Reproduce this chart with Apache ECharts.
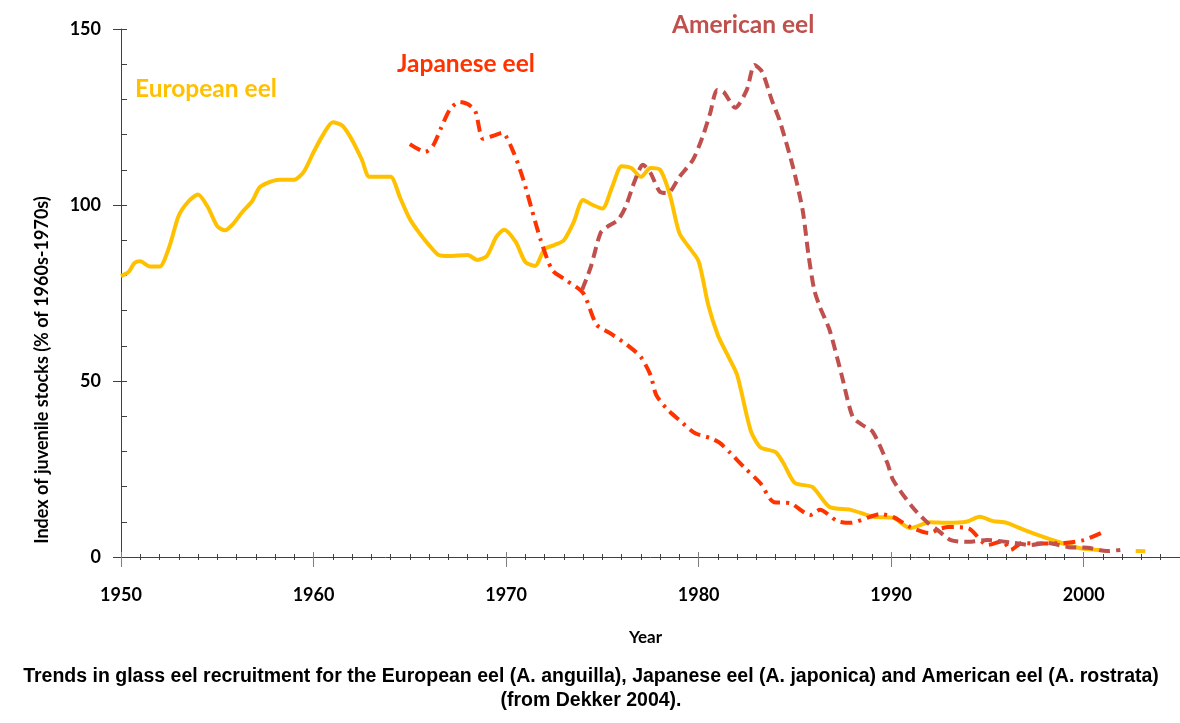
<!DOCTYPE html>
<html>
<head>
<meta charset="utf-8">
<script src="https://cdn.jsdelivr.net/npm/echarts@6/dist/echarts.min.js"></script>
<style>
html,body{margin:0;padding:0;background:#fff;}
#chart{width:1180px;height:723px;}
</style>
</head>
<body>
<div id="chart"></div>
<script>
// ---- Data ----
const xTickLabels = [1950, 1960, 1970, 1980, 1990, 2000];
const yTickLabels = [0, 50, 100, 150];

const euroYears = [1950.0,1950.4,1950.7,1951.0,1951.5,1952.0,1952.5,1953.0,1953.5,1954.0,1954.5,1955.0,1955.4,1955.8,1956.3,1956.8,1957.2,1957.7,1958.2,1959.0,1959.5,1960.0,1960.5,1961.0,1961.5,1962.0,1962.5,1962.9,1963.5,1964.0,1964.5,1965.0,1965.5,1966.0,1966.5,1967.0,1968.0,1968.5,1969.0,1969.5,1969.9,1970.5,1971.0,1971.5,1972.0,1972.5,1973.0,1973.5,1974.0,1974.5,1975.0,1975.5,1976.0,1976.5,1977.0,1977.5,1978.0,1978.5,1979.0,1979.5,1980.0,1980.5,1981.0,1981.5,1982.0,1982.7,1983.2,1984.0,1984.4,1985.0,1985.9,1986.8,1987.9,1989.1,1990.1,1991.0,1992.0,1992.9,1993.9,1994.6,1995.3,1996.0,1996.9,1997.9,1999.0,2000.0,2000.8,2001.8,2002.7,2003.2];
const euroValues = [79.8,81,83.5,84,82.5,82.5,88,97,101,103,99.5,94,92.8,94.5,98,101,105,106.5,107.2,107.2,109.5,115,120,123.5,122.5,118.5,113,108,108,108,102,96,92,88.6,85.8,85.5,85.8,84.4,85.5,91,93,89.5,83.8,82.7,87.5,88.6,90,95,101.4,100,99,105,111,110.5,108,110.5,110,103,92,88,84,71.6,63,57.4,51.7,36,31.2,29.8,26.7,21,19.9,14.2,13.4,11.4,11.1,8.2,9.9,9.7,10,11.4,10.2,9.7,7.7,5.7,3.7,2.3,2,null,1.7,1.6];

const japanYears = [1965.0,1965.8,1966.2,1966.6,1967.1,1967.6,1968.0,1968.4,1968.8,1969.3,1969.8,1970.4,1970.9,1971.3,1971.8,1972.4,1973.1,1974.0,1974.7,1975.4,1976.3,1977.0,1977.5,1977.8,1978.4,1979.0,1979.8,1980.6,1981.1,1981.6,1982.4,1983.2,1983.9,1984.75,1985.8,1986.3,1987.2,1987.9,1988.9,1989.4,1990.1,1991.0,1992.0,1992.5,1993.0,1994.0,1995.0,1995.8,1996.2,1996.8,1997.5,1999.0,2000.0,2000.9];
const japanValues = [117.3,115.1,116.8,121.6,127.3,129.3,128.7,126.7,118.8,119.6,120.5,114.8,107.1,99.4,90,81.5,78.7,75,66,63.6,60.2,56.8,51.7,46,41.8,38.9,35.2,33.8,32.4,29.8,25.3,21,15.6,15.3,11.9,13.4,10.2,9.7,11.4,12.2,11.4,8.5,6.8,8,8.5,8.2,3.4,4.5,2,4,3.8,4,4.8,6.8];

const amerYears = [1973.95,1974.4,1974.9,1975.25,1975.8,1976.2,1976.7,1977.1,1977.5,1978.0,1978.4,1979.0,1979.7,1980.2,1980.6,1980.96,1981.3,1981.9,1982.5,1982.9,1983.3,1983.8,1984.2,1984.9,1985.4,1985.7,1986.0,1986.3,1986.8,1987.4,1988.0,1988.5,1989.05,1989.8,1990.1,1991.1,1991.9,1992.4,1993.1,1994.0,1995.0,1996.4,1997.2,1998.1,1999.2,2000.2,2001.2,2001.9];
const amerValues = [75.9,82.4,92,93.8,95.7,99.4,107.1,111.4,109.1,103.7,103.4,108,112.8,119.3,126.1,132.7,132.1,127.6,132.7,139.8,137.8,129.8,124.1,110.8,98.6,86,76,71,64.5,52.3,39.8,37.5,35.5,26.7,21.9,14.2,9.7,7.7,4.8,4.3,4.8,4,3.4,4,2.8,2.6,1.7,2];

const seriesNames = ['European eel', 'Japanese eel', 'American eel'];
const yAxisTitle = 'Index of juvenile stocks (% of 1960s-1970s)';
const xAxisTitle = 'Year';
const captionLines = ['Trends in glass eel recruitment for the European eel (A. anguilla), Japanese eel (A. japonica) and American eel (A. rostrata)', '(from Dekker 2004).'];

// ---- Build ----
function pairs(xs, ys) { return xs.map((x, i) => [x, ys[i]]); }

const COL_EU = '#FFC000', COL_JP = '#FF3300', COL_AM = '#C0504D';
const tickFont = 'Lato';
const gridCfg = { left: 121, right: 0, top: 29, bottom: 166 };

const chart = echarts.init(document.getElementById('chart'), null, { renderer: 'canvas' });

const axisLineStyle = { color: '#404040', width: 1 };
const option = {
  backgroundColor: '#ffffff',
  animation: false,
  grid: gridCfg,
  xAxis: [
    {
      type: 'value', min: 1950, max: 2005, interval: 10,
      axisLine: { show: true, lineStyle: axisLineStyle },
      axisTick: { show: true, length: 10, lineStyle: { color: '#808080' }, customValues: xTickLabels },
      minorTick: { show: true, splitNumber: 10, length: 3, lineStyle: { color: '#404040' } },
      splitLine: { show: false }, minorSplitLine: { show: false },
      axisLabel: { show: true, margin: 29, fontFamily: tickFont, fontWeight: 'bold', fontSize: 18, color: '#000',
        customValues: xTickLabels, formatter: v => String(v) },
      name: xAxisTitle, nameLocation: 'middle', nameGap: 72,
      nameTextStyle: { fontFamily: tickFont, fontWeight: 'bold', fontSize: 17, color: '#000', padding: [0, 10, 0, 0] }
    },
    {
      type: 'value', min: 1950, max: 2005, interval: 10, position: 'bottom',
      axisLine: { show: false },
      axisTick: { show: true, inside: true, length: 5, lineStyle: { color: '#808080' } },
      minorTick: { show: true, splitNumber: 10, length: 3, lineStyle: { color: '#404040' } },
      splitLine: { show: false }, axisLabel: { show: false }
    }
  ],
  yAxis: [
    {
      type: 'value', min: 0, max: 150, interval: 50,
      axisLine: { show: true, lineStyle: axisLineStyle },
      axisTick: { show: true, length: 8, lineStyle: { color: '#404040' } },
      splitLine: { show: false },
      axisLabel: { margin: 20, fontFamily: tickFont, fontWeight: 'bold', fontSize: 18, color: '#000',
        customValues: yTickLabels }
    },
    {
      type: 'value', min: 0, max: 150, interval: 50, position: 'left',
      axisLine: { show: false },
      axisTick: { show: true, inside: true, length: 6, lineStyle: { color: '#404040' } },
      minorTick: { show: true, splitNumber: 5, length: 6, lineStyle: { color: '#404040' } },
      splitLine: { show: false }, axisLabel: { show: false }
    }
  ],
  series: [
    {
      name: seriesNames[0], type: 'line', xAxisIndex: 0, yAxisIndex: 0,
      data: pairs(euroYears, euroValues), showSymbol: false, smooth: 0.25, connectNulls: false,
      lineStyle: { color: COL_EU, width: 4, cap: 'butt' }, z: 3
    },
    {
      name: seriesNames[1], type: 'line', xAxisIndex: 0, yAxisIndex: 0,
      data: pairs(japanYears, japanValues), showSymbol: false, smooth: 0.25,
      lineStyle: { color: COL_JP, width: 4, type: [12, 6, 3, 6] }, z: 4
    },
    {
      name: seriesNames[2], type: 'line', xAxisIndex: 0, yAxisIndex: 0,
      data: pairs(amerYears, amerValues), showSymbol: false, smooth: 0.25,
      lineStyle: { color: COL_AM, width: 4, type: [11, 6] }, z: 5
    }
  ],
  graphic: [
    { type: 'text', left: 135, top: 77, style: { text: seriesNames[0], fill: COL_EU, font: 'bold 24.5px Lato' } },
    { type: 'text', left: 397, top: 52, style: { text: seriesNames[1], fill: COL_JP, font: 'bold 24.5px Lato' } },
    { type: 'text', left: 672, top: 13, style: { text: seriesNames[2], fill: COL_AM, font: 'bold 24.5px Lato' } },
    { type: 'text', x: 42, y: 370, rotation: Math.PI / 2,
      style: { text: yAxisTitle, fill: '#000', font: 'bold 18px Lato', textAlign: 'center', textVerticalAlign: 'middle' } },
    { type: 'text', x: 591, y: 677,
      style: { text: captionLines[0], fill: '#000', font: 'bold 19.5px "Liberation Sans"', textAlign: 'center', textVerticalAlign: 'middle' } },
    { type: 'text', x: 591, y: 701,
      style: { text: captionLines[1], fill: '#000', font: 'bold 19.5px "Liberation Sans"', textAlign: 'center', textVerticalAlign: 'middle' } }
  ]
};
chart.setOption(option);
</script>
</body>
</html>
